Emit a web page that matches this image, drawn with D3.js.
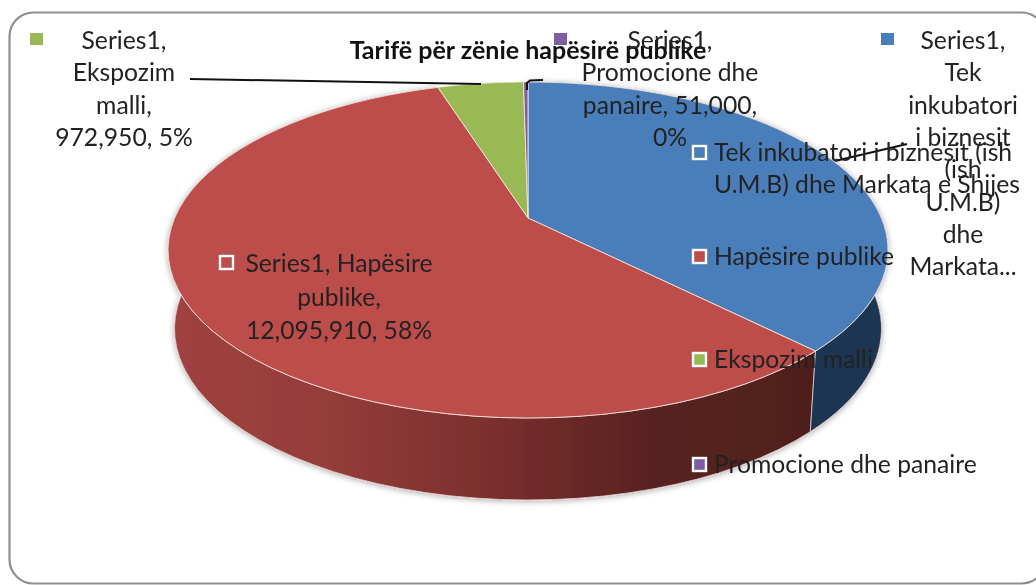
<!DOCTYPE html>
<html>
<head>
<meta charset="utf-8">
<script src="https://cdn.jsdelivr.net/npm/d3@7"></script>
<style>
  html, body { margin: 0; background: #fff; }
  svg { display: block; filter: blur(0.45px); }
  text { font-family: Lato, "Open Sans", sans-serif; fill: #222; }
</style>
</head>
<body>
<svg id="chart" width="1036" height="585"></svg>
<script>
// values (blue one is cut off in the label)
const categories = ['Tek inkubatori i biznesit (ish U.M.B) dhe Markata e Shijes', 'Hapësire publike', 'Ekspozim malli', 'Promocione dhe panaire'];
const values = [7900000, 12095910, 972950, 51000];
const topColors = ['#4a7ebb', '#bd4d4a', '#98b954', '#7d5fa0'];
const titleText = 'Tarifë për zënie hapësirë publike';
const seriesName = 'Series1';

const blueLabel = ['Series1,', 'Tek', 'inkubatori', 'i biznesit', '(ish', 'U.M.B)', 'dhe', 'Markata...'];
const redLabel = ['Series1, Hapësire', 'publike,', '12,095,910, 58%'];
const greenLabel = ['Series1,', 'Ekspozim', 'malli,', '972,950, 5%'];
const purpleLabel = ['Series1,', 'Promocione dhe', 'panaire, 51,000,', '0%'];
const legendLines = [['Tek inkubatori i biznesit (ish', 'U.M.B) dhe Markata e Shijes'], ['Hapësire publike'], ['Ekspozim malli'], ['Promocione dhe panaire']];

const svg = d3.select('#chart');
const defs = svg.append('defs');

// --- Frame ---
svg.append('rect')
  .attr('x', 9.5).attr('y', 12.5).attr('width', 1036).attr('height', 571).attr('rx', 24)
  .attr('fill', '#fff').attr('stroke', '#8f8f8f').attr('stroke-width', 2.2);

// --- Perspective disc ---
const cx = 528, cy = 218, persp = 0.1905;
const xScale = d3.scaleLinear().domain([0, 1]).range([cx, cx + 353.4]);
const yScale = d3.scaleLinear().domain([0, 1]).range([cy, cy + 161.9]);

function topPoint(a) {
  const u = Math.sin(a), v = -Math.cos(a), d = 1 - persp * v;
  return [xScale(u / d), yScale(v / d)];
}
function lowPoint(a) {
  const p = topPoint(a);
  return [cx + (p[0] - cx) * 0.982, cy + 78 + (p[1] - cy) * 1.02];
}
function samples(start, end) {
  return d3.range(0, 61).map(i => start + (end - start) * i / 60);
}

const pie = d3.pie().sort(null).value(d => d);
const slices = pie(values);
const line = d3.line().curve(d3.curveLinear);

// --- Side wall ---
const redGrad = defs.append('linearGradient').attr('id', 'red-wall')
  .attr('gradientUnits', 'userSpaceOnUse').attr('x1', 170).attr('x2', 815).attr('y1', 0).attr('y2', 0);
[[0, '#a04240'], [0.25, '#943c3a'], [0.5, '#7a2f2d'], [0.75, '#582220'], [1, '#4f1f1e']].forEach(s =>
  redGrad.append('stop').attr('offset', s[0]).attr('stop-color', s[1]));

const shadow = defs.append('filter').attr('id', 'wall-shadow')
  .attr('x', '-5%').attr('y', '-5%').attr('width', '110%').attr('height', '115%');
shadow.append('feDropShadow').attr('dx', 0).attr('dy', 1).attr('stdDeviation', 3)
  .attr('flood-color', '#000').attr('flood-opacity', 0.35);

const wallFill = ['#1f3552', 'url(#red-wall)', '#5f7030', '#4a3860'];
const walls = svg.append('g').attr('filter', 'url(#wall-shadow)');
[1, 0].forEach(i => {
  const a = samples(slices[i].startAngle, slices[i].endAngle);
  const ribbon = a.map(topPoint).concat(a.slice().reverse().map(lowPoint));
  walls.append('path')
    .attr('d', line(ribbon) + 'Z')
    .attr('fill', wallFill[i])
    .attr('stroke', '#e6cfcf').attr('stroke-width', 1).attr('stroke-opacity', 0.8);
});

// --- Top of the pie ---
svg.append('g').selectAll('path').data(slices).join('path')
  .attr('d', d => line([[cx, cy]].concat(samples(d.startAngle, d.endAngle).map(topPoint))) + 'Z')
  .attr('fill', (d, i) => topColors[i])
  .attr('stroke', '#f3e6dc').attr('stroke-width', 1).attr('stroke-opacity', 0.85);

// --- Title ---
svg.append('text').text(titleText)
  .attr('x', 528).attr('y', 59).attr('text-anchor', 'middle')
  .attr('font-size', 25).attr('font-weight', 700).style('fill', '#111');

// --- Leader lines ---
const leaders = [
  [[190, 79], [310, 81], [481, 84]],
  [[527, 90], [527, 83], [530, 80.5], [543, 80]],
  [[835, 161], [907, 144]]
];
svg.append('g').selectAll('path').data(leaders).join('path')
  .attr('d', d => line(d)).attr('fill', 'none').attr('stroke', '#111').attr('stroke-width', 2);

// --- Data labels ---
const fontSize = 24.7, lineH = 32.3;
const labelGroups = [
  { lines: greenLabel, x: 124, y: 49, color: 2, mx: 30, my: 33 },
  { lines: purpleLabel, x: 670, y: 49, color: 3, mx: 554, my: 33 },
  { lines: blueLabel, x: 963, y: 49, color: 0, mx: 881, my: 33 }
];
labelGroups.forEach(g => {
  svg.append('rect').attr('x', g.mx).attr('y', g.my).attr('width', 13).attr('height', 12).attr('fill', topColors[g.color]);
  g.lines.forEach((t, i) => {
    svg.append('text').text(t).attr('x', g.x).attr('y', g.y + i * lineH)
      .attr('text-anchor', 'middle').attr('font-size', fontSize);
  });
});

function box(x, y, i) {
  svg.append('rect').attr('x', x).attr('y', y).attr('width', 13).attr('height', 13)
    .attr('fill', topColors[i]).attr('stroke', '#fff').attr('stroke-width', 2.4);
}

box(220, 256, 1);
redLabel.forEach((t, i) => {
  svg.append('text').text(t).attr('x', 339).attr('y', 272 + i * 33.5)
    .attr('text-anchor', 'middle').attr('font-size', fontSize);
});

// --- Legend inside the plot ---
const legendY = [161, 265, 368, 473];
legendLines.forEach((lines, i) => {
  box(693, legendY[i] - 15, i);
  lines.forEach((t, j) => {
    svg.append('text').text(t).attr('x', 714).attr('y', legendY[i] + j * 32)
      .attr('font-size', fontSize);
  });
});
</script>
</body>
</html>
